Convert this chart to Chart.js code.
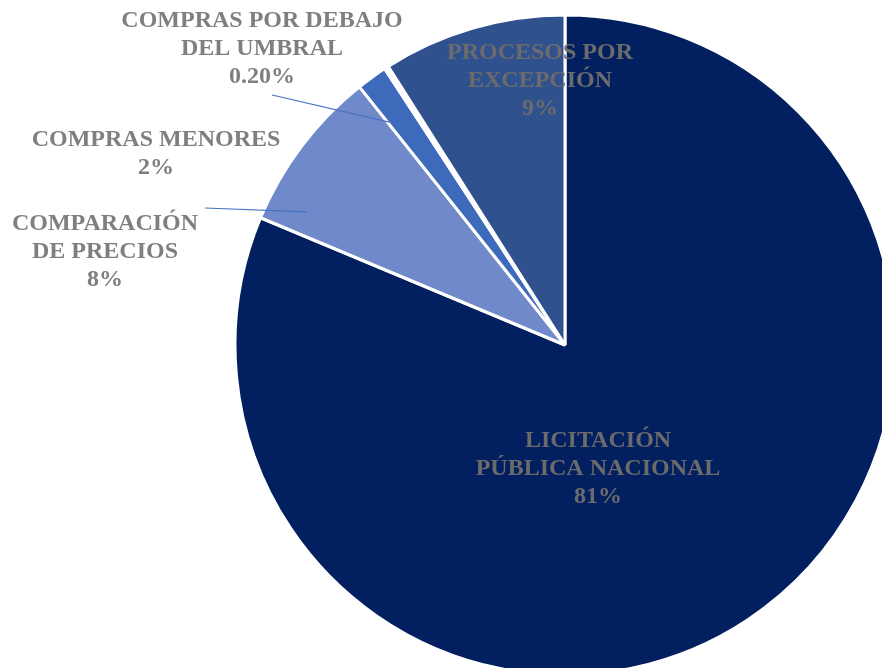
<!DOCTYPE html>
<html>
<head>
<meta charset="utf-8">
<script src="https://cdn.jsdelivr.net/npm/chart.js@4"></script>
<style>
  html, body { margin: 0; padding: 0; background: #fff; }
  #wrap { width: 882px; height: 668px; }
</style>
</head>
<body>
<div id="wrap"><canvas id="pieChart" width="882" height="668"></canvas></div>
<script>
// Data (clockwise from 12 o'clock)
const categories = [
  ['LICITACIÓN', 'PÚBLICA NACIONAL'],
  ['COMPARACIÓN', 'DE PRECIOS'],
  ['COMPRAS MENORES'],
  ['COMPRAS POR DEBAJO', 'DEL UMBRAL'],
  ['PROCESOS POR', 'EXCEPCIÓN']
];
const shares = [81.3, 8.0, 1.5, 0.2, 9.0];
const pctLabels = ['81%', '8%', '2%', '0.20%', '9%'];
const sliceColors = ['#02205f', '#6f89ca', '#3d6aba', '#f0f3fa', '#2f528f'];

// label placement (text centre x, first line y) and optional leader line
const labelLayout = [
  { x: 598, y: 441, color: '#6b6b6b' },
  { x: 105, y: 224, color: '#7f7f7f', line: { from: [205, 208], slice: 1, t: 0.16, r: 0.88 } },
  { x: 156, y: 140, color: '#7f7f7f' },
  { x: 262, y: 21, color: '#7f7f7f', line: { from: [272, 95], slice: 2, t: 0.05, r: 0.86 } },
  { x: 540, y: 53, color: '#6b6b6b' }
];

const pieLabels = {
  id: 'pieLabels',
  afterDatasetsDraw(chart) {
    const ctx = chart.ctx;
    const arcs = chart.getDatasetMeta(0).data;
    ctx.save();
    // leader lines first
    labelLayout.forEach(l => {
      if (!l.line) return;
      const a = arcs[l.line.slice];
      const ang = a.startAngle + (a.endAngle - a.startAngle) * l.line.t;
      const rr = a.outerRadius * l.line.r;
      ctx.beginPath();
      ctx.moveTo(l.line.from[0], l.line.from[1]);
      ctx.lineTo(a.x + Math.cos(ang) * rr, a.y + Math.sin(ang) * rr);
      ctx.strokeStyle = '#4472c4';
      ctx.lineWidth = 1.2;
      ctx.stroke();
    });
    ctx.font = 'bold 24px "Liberation Serif", "Times New Roman", serif';
    ctx.textAlign = 'center';
    ctx.textBaseline = 'middle';
    labelLayout.forEach((l, i) => {
      const lines = categories[i].concat([pctLabels[i]]);
      ctx.fillStyle = l.color;
      lines.forEach((t, k) => ctx.fillText(t, l.x, l.y + k * 27.8));
    });
    ctx.restore();
  }
};

new Chart(document.getElementById('pieChart').getContext('2d'), {
  type: 'pie',
  data: {
    labels: categories.map(c => c.join(' ')),
    datasets: [{
      data: shares,
      backgroundColor: sliceColors,
      borderColor: '#ffffff',
      borderWidth: 3,
      clip: false
    }]
  },
  options: {
    responsive: false,
    animation: false,
    radius: 330,
    layout: { padding: { left: 248, top: 22, right: 0, bottom: 0 } },
    plugins: {
      legend: { display: false },
      tooltip: { enabled: false }
    }
  },
  plugins: [pieLabels]
});
</script>
</body>
</html>
